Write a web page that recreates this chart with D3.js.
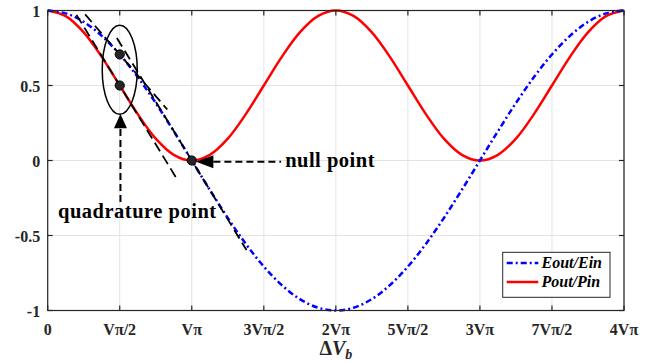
<!DOCTYPE html>
<html><head><meta charset="utf-8">
<script src="https://cdn.jsdelivr.net/npm/d3@7"></script>
<style>
body{margin:0;background:#fff;}
svg{display:block;}
text{font-family:"Liberation Serif","Times New Roman",serif;font-weight:bold;}
</style></head>
<body><svg id="c" width="655" height="363"></svg>
<script>
// x in units of Vπ
const xValues = [0,0.125,0.25,0.375,0.5,0.625,0.75,0.875,1,1.125,1.25,1.375,1.5,1.625,1.75,1.875,2,
  2.125,2.25,2.375,2.5,2.625,2.75,2.875,3,3.125,3.25,3.375,3.5,3.625,3.75,3.875,4];
const eoutEin = [1,0.981,0.924,0.831,0.707,0.556,0.383,0.195,0,-0.195,-0.383,-0.556,-0.707,-0.831,-0.924,-0.981,-1,
  -0.981,-0.924,-0.831,-0.707,-0.556,-0.383,-0.195,0,0.195,0.383,0.556,0.707,0.831,0.924,0.981,1];
const poutPin = [1,0.962,0.854,0.691,0.5,0.309,0.146,0.038,0,0.038,0.146,0.309,0.5,0.691,0.854,0.962,1,
  0.962,0.854,0.691,0.5,0.309,0.146,0.038,0,0.038,0.146,0.309,0.5,0.691,0.854,0.962,1];
const xTicks = [0,0.5,1,1.5,2,2.5,3,3.5,4];
const xTickLabels = ["0","Vπ/2","Vπ","3Vπ/2","2Vπ","5Vπ/2","3Vπ","7Vπ/2","4Vπ"];
const yTicks = [-1,-0.5,0,0.5,1];
const yTickLabels = ["-1","-0.5","0","0.5","1"];
const seriesNames = ["Eout/Ein","Pout/Pin"];
// tangent lines [x1,y1,x2,y2] in data units
const tangents = [[0.2,0.971,0.9,-0.128],[0.26,0.974,0.83,0.340],[0.48,0.817,1.38,-0.597]];
// marked points
const markedPoints = [[0.5,0.707],[0.5,0.5],[1,0]];

const W=655,H=363, m={l:47.7,r:31,t:10.5,b:52.5};
const svg=d3.select("#c");
const x=d3.scaleLinear().domain([0,4]).range([m.l,W-m.r]);
const y=d3.scaleLinear().domain([-1,1]).range([H-m.b,m.t]);

// grid
svg.append("g").selectAll("line").data(xTicks).join("line")
  .attr("x1",d=>x(d)).attr("x2",d=>x(d)).attr("y1",y(-1)).attr("y2",y(1))
  .attr("stroke","#e3e3e3").attr("stroke-width",1);
svg.append("g").selectAll("line").data(yTicks).join("line")
  .attr("y1",d=>y(d)).attr("y2",d=>y(d)).attr("x1",x(0)).attr("x2",x(4))
  .attr("stroke","#e3e3e3").attr("stroke-width",1);

// curves
const blueData=xValues.map((v,i)=>[v,eoutEin[i]]);
const redData=xValues.map((v,i)=>[v,poutPin[i]]);
const line=d3.line().x(d=>x(d[0])).y(d=>y(d[1])).curve(d3.curveCatmullRom.alpha(0.5));
svg.append("path").attr("d",line(redData)).attr("fill","none").attr("stroke","#ff0000").attr("stroke-width",2.5);
svg.append("path").attr("d",line(blueData)).attr("fill","none").attr("stroke","#0000ff").attr("stroke-width",2.5)
  .attr("stroke-dasharray","6,3,2,3");

// tangents
svg.append("g").selectAll("line").data(tangents).join("line")
  .attr("x1",d=>x(d[0])).attr("y1",d=>y(d[1])).attr("x2",d=>x(d[2])).attr("y2",d=>y(d[3]))
  .attr("stroke","#000").attr("stroke-width",1.8).attr("stroke-dasharray","10,5");

// ellipse
svg.append("ellipse").attr("cx",x(0.5)).attr("cy",y(0.605))
  .attr("rx",x(0.1215)-x(0)).attr("ry",y(0)-y(0.297))
  .attr("fill","none").attr("stroke","#000").attr("stroke-width",1.5);

// dots
svg.append("g").selectAll("circle").data(markedPoints).join("circle")
  .attr("cx",d=>x(d[0])).attr("cy",d=>y(d[1])).attr("r",4.6)
  .attr("fill","#262626").attr("stroke","#000").attr("stroke-width",1);

// quadrature arrow
const qx=x(0.505);
svg.append("line").attr("x1",qx).attr("x2",qx).attr("y1",y(-0.277)).attr("y2",y(0.215))
  .attr("stroke","#000").attr("stroke-width",2).attr("stroke-dasharray","7,4");
svg.append("path").attr("d",`M${qx},${y(0.31)} L${qx-6.5},${y(0.215)} L${qx+6.5},${y(0.215)} Z`).attr("fill","#000");
// null arrow
const ny=y(-0.008);
svg.append("line").attr("x1",x(1.15)).attr("x2",x(1.62)).attr("y1",ny).attr("y2",ny)
  .attr("stroke","#000").attr("stroke-width",2).attr("stroke-dasharray","7,4");
svg.append("path").attr("d",`M${x(1.03)},${ny} L${x(1.15)},${ny-6.5} L${x(1.15)},${ny+6.5} Z`).attr("fill","#000");

svg.append("text").attr("x",x(1.648)).attr("y",y(-0.043)).attr("font-size",20.5).attr("letter-spacing",0.5).text("null point");
svg.append("text").attr("x",x(0.072)).attr("y",y(-0.385)).attr("font-size",20.5).attr("letter-spacing",0.5).text("quadrature point");

// axes box
const axCol="#262626";
svg.append("rect").attr("x",x(0)).attr("y",y(1)).attr("width",x(4)-x(0)).attr("height",y(-1)-y(1))
  .attr("fill","none").attr("stroke",axCol).attr("stroke-width",1.2);
// ticks inward
const tl=5;
const tg=svg.append("g").attr("stroke",axCol).attr("stroke-width",1.2);
xTicks.forEach(t=>{
  tg.append("line").attr("x1",x(t)).attr("x2",x(t)).attr("y1",y(-1)).attr("y2",y(-1)-tl);
  tg.append("line").attr("x1",x(t)).attr("x2",x(t)).attr("y1",y(1)).attr("y2",y(1)+tl);
});
yTicks.forEach(t=>{
  tg.append("line").attr("y1",y(t)).attr("y2",y(t)).attr("x1",x(0)).attr("x2",x(0)+tl);
  tg.append("line").attr("y1",y(t)).attr("y2",y(t)).attr("x1",x(4)).attr("x2",x(4)-tl);
});
// tick labels
svg.append("g").selectAll("text").data(xTicks).join("text")
  .attr("x",d=>x(d)).attr("y",y(-1)+24.5).attr("text-anchor","middle").attr("font-size",16).attr("fill","#262626")
  .text((d,i)=>xTickLabels[i]);
svg.append("g").selectAll("text").data(yTicks).join("text")
  .attr("x",x(0)-7.5).attr("y",d=>y(d)+6).attr("text-anchor","end").attr("font-size",16).attr("fill","#262626")
  .text((d,i)=>yTickLabels[i]);

// x label
const xl=svg.append("text").attr("x",x(2)).attr("y",355).attr("text-anchor","middle").attr("font-size",20).attr("fill","#262626");
xl.append("tspan").text("Δ");
xl.append("tspan").attr("font-style","italic").text("V");
xl.append("tspan").attr("font-style","italic").attr("font-size",14).attr("dy",4).text("b");

// legend
const lg=svg.append("g");
lg.append("rect").attr("x",502.7).attr("y",252.3).attr("width",107.3).attr("height",45)
  .attr("fill","#fff").attr("stroke","#262626").attr("stroke-width",1);
const legY=[268,287];
seriesNames.forEach((n,i)=>{
  lg.append("line").attr("x1",506.7).attr("x2",538.3).attr("y1",legY[i]-5).attr("y2",legY[i]-5)
    .attr("stroke",i===0?"#0000ff":"#ff0000").attr("stroke-width",2.5)
    .attr("stroke-dasharray",i===0?"6,3,2,3":null);
  lg.append("text").attr("x",541.5).attr("y",legY[i]).attr("font-size",16).attr("font-style","italic").text(n);
});
</script></body></html>
